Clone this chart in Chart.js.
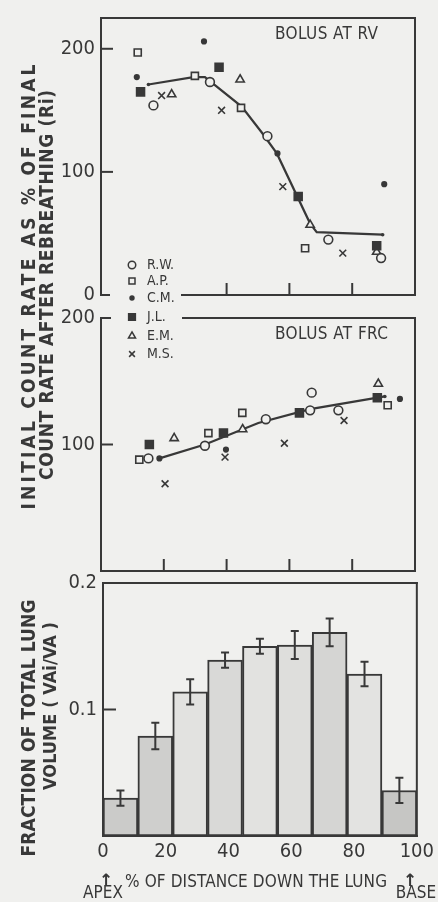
<!DOCTYPE html>
<html><head><meta charset="utf-8">
<script src="https://cdn.jsdelivr.net/npm/chart.js@4.4.0/dist/chart.umd.min.js"></script>
<style>
html,body{margin:0;padding:0;background:#f0f0ee;}
#wrap{position:relative;width:438px;height:902px;overflow:hidden;}
#wrap canvas{position:absolute;left:0;top:0;}
</style></head><body>
<div id="wrap">
<canvas id="c1" width="438" height="902"></canvas>
<canvas id="c2" width="438" height="902"></canvas>
<canvas id="c3" width="438" height="902"></canvas>
</div>
<script>
// ---------- DATA ----------
const subjects = ['R.W.', 'A.P.', 'C.M.', 'J.L.', 'E.M.', 'M.S.'];

// Bolus at RV (x = % of distance down the lung, y = Ri %)
const rvRWx = [16.7, 34.7, 53.0, 72.4, 89.2];  const rvRWy = [154, 173, 129, 45, 30];
const rvAPx = [11.7, 29.9, 44.6, 65.0];        const rvAPy = [197, 178, 152, 38];
const rvCMx = [11.4, 32.8, 56.2, 90.2];        const rvCMy = [177, 206, 115, 90];
const rvJLx = [12.6, 37.6, 62.8, 87.8];        const rvJLy = [165, 185, 80, 40];
const rvEMx = [22.5, 44.3, 66.6, 87.8];        const rvEMy = [163, 175, 57, 35];
const rvMSx = [19.3, 38.4, 57.9, 77.0];        const rvMSy = [162, 150, 88, 34];
const rvFitX = [15.1, 29.4, 33.1, 44.8, 51.2, 56.0, 66.6, 68.7, 89.7];
const rvFitY = [171, 177, 177, 153, 132, 115, 58, 51, 49];

// Bolus at FRC
const frcRWx = [15.1, 33.1, 52.5, 66.6, 67.1, 75.6]; const frcRWy = [89, 99, 120, 127, 141, 127];
const frcAPx = [12.2, 34.2, 45.0, 91.3];             const frcAPy = [88, 109, 125, 131];
const frcCMx = [18.6, 39.8, 95.2];                   const frcCMy = [89, 96, 136];
const frcJLx = [15.4, 39.0, 63.2, 88.0];             const frcJLy = [100, 109, 125, 137];
const frcEMx = [23.3, 45.1, 88.3];                   const frcEMy = [105, 112, 148];
const frcMSx = [20.4, 39.5, 58.4, 77.4];             const frcMSy = [69, 90, 101, 119];
const frcFitX = [18.6, 33.1, 50.1, 66.6, 90.4];
const frcFitY = [89, 100, 117, 128, 138];

// Fraction of total lung volume per region
const binCenters = [5.56, 16.67, 27.78, 38.89, 50.0, 61.11, 72.22, 83.33, 94.44];
const volFraction = [0.030, 0.079, 0.114, 0.139, 0.150, 0.151, 0.161, 0.128, 0.036];
const volError    = [0.006, 0.0105, 0.010, 0.006, 0.006, 0.011, 0.011, 0.0097, 0.010];

const rvTicks = [0, 100, 200];
const frcTicks = [100, 200];
const volTicks = [0.1, 0.2];
const xTickLabels = [0, 20, 40, 60, 80, 100];

// ---------- STYLE ----------
const INK = '#383838';
const BG = '#f0f0ee';
const NARROW = '"Liberation Sans Narrow", "DejaVu Sans Condensed", "Arial Narrow", sans-serif';
const markerStyles = [
  {pointStyle: 'circle',   radius: 4.4, fill: BG},
  {pointStyle: 'rect',     radius: 5.0, fill: BG},
  {pointStyle: 'circle',   radius: 2.3, fill: INK},
  {pointStyle: 'rect',     radius: 5.6, fill: INK},
  {pointStyle: 'triangle', radius: 4.8, fill: BG},
  {pointStyle: 'crossRot', radius: 4.8, fill: BG}
];
const barFills = ['#cbcbc9', '#cfcfcd', '#e2e2e0', '#d9d9d7', '#e2e2e0', '#dededc', '#d5d5d3', '#e3e3e1', '#c6c6c4'];

function pts(xs, ys) { return xs.map((x, i) => ({x: x, y: ys[i]})); }
function scatterDs(label, xs, ys, st) {
  return {type: 'scatter', label: label, data: pts(xs, ys), showLine: false,
    pointStyle: st.pointStyle, pointRadius: st.radius, pointHoverRadius: st.radius,
    pointBackgroundColor: st.fill, pointBorderColor: INK, pointBorderWidth: 1.6, order: 1};
}
function fitDs(xs, ys) {
  return {type: 'line', label: 'fit', data: pts(xs, ys), borderColor: INK, borderWidth: 2.2,
    pointRadius: c => (c.dataIndex === 0 || c.dataIndex === xs.length - 1) ? 1.8 : 0,
    pointBackgroundColor: INK, pointBorderWidth: 0, fill: false, tension: 0, order: 5};
}

const framePlugin = {
  id: 'frame',
  beforeDatasetsDraw(chart, args, o) {
    const ctx = chart.ctx, a = chart.chartArea, sc = chart.scales;
    ctx.save();
    ctx.strokeStyle = INK; ctx.lineWidth = 2; ctx.lineCap = 'square';
    const seg = (x1, y1, x2, y2) => { ctx.beginPath(); ctx.moveTo(x1, y1); ctx.lineTo(x2, y2); ctx.stroke(); };
    const top = o.top || [[0, a.right - a.left]];
    const bot = o.bottom || [[0, a.right - a.left]];
    top.forEach(s => seg(a.left + s[0], a.top, Math.min(a.right, a.left + s[1]), a.top));
    bot.forEach(s => seg(a.left + s[0], a.bottom, Math.min(a.right, a.left + s[1]), a.bottom));
    seg(a.left, a.top, a.left, a.bottom);
    seg(a.right, a.top, a.right, a.bottom);
    ctx.lineCap = 'butt';
    (o.xTicks || []).forEach(v => { const x = sc.x.getPixelForValue(v); seg(x, a.bottom, x, a.bottom - o.tickLen); });
    (o.yTicks || []).forEach(v => { const y = sc.y.getPixelForValue(v); seg(a.left, y, a.left + o.tickLen, y); });
    ctx.restore();
  }
};

function drawText(ctx, t) {
  ctx.save();
  ctx.font = t.font;
  ctx.fillStyle = INK;
  ctx.textAlign = t.align || 'center';
  ctx.textBaseline = 'middle';
  let ls = 0;
  if (t.width && 'letterSpacing' in ctx) {
    ctx.letterSpacing = '0px';
    const w = ctx.measureText(t.text).width;
    ls = (t.width - w) / (t.text.length - 1);
    ctx.letterSpacing = ls + 'px';
  }
  ctx.translate(t.x, t.y);
  if (t.rot) ctx.rotate(t.rot);
  ctx.fillText(t.text, t.align ? 0 : ls / 2, 0);
  ctx.restore();
}

const textPlugin = {
  id: 'texts',
  afterDraw(chart, args, o) {
    (o.items || []).forEach(t => drawText(chart.ctx, t));
  }
};

const legendPlugin = {
  id: 'subjLegend',
  afterDraw(chart, args, o) {
    const ctx = chart.ctx;
    subjects.forEach((s, i) => {
      const st = markerStyles[i];
      const y = o.rows[i];
      ctx.save();
      ctx.fillStyle = st.fill; ctx.strokeStyle = INK; ctx.lineWidth = 1.5;
      Chart.helpers.drawPoint(ctx, {pointStyle: st.pointStyle, radius: st.radius * 0.85, rotation: 0, borderWidth: 1.5}, o.symX, y);
      ctx.restore();
      drawText(ctx, {text: s, x: o.textX, y: y, font: '14px ' + NARROW, align: 'left'});
    });
  }
};

const tickFont = {family: NARROW, size: 20};
function yScale(min, max, ticks, w, fmt) {
  return {
    min: min, max: max,
    afterFit: s => { s.width = w; },
    afterBuildTicks: s => { s.ticks = ticks.map(v => ({value: v})); },
    grid: {display: false, drawTicks: false},
    border: {display: false},
    ticks: {color: INK, font: tickFont, padding: 6, callback: fmt || (v => String(v))}
  };
}
const common = {responsive: false, animation: false, devicePixelRatio: 1, events: []};

// ---------- CHART 1: Bolus at RV ----------
new Chart(document.getElementById('c1'), {
  type: 'scatter',
  data: {datasets: [
    scatterDs(subjects[0], rvRWx, rvRWy, markerStyles[0]),
    scatterDs(subjects[1], rvAPx, rvAPy, markerStyles[1]),
    scatterDs(subjects[2], rvCMx, rvCMy, markerStyles[2]),
    scatterDs(subjects[3], rvJLx, rvJLy, markerStyles[3]),
    scatterDs(subjects[4], rvEMx, rvEMy, markerStyles[4]),
    scatterDs(subjects[5], rvMSx, rvMSy, markerStyles[5]),
    fitDs(rvFitX, rvFitY)
  ]},
  options: Object.assign({}, common, {
    layout: {padding: {top: 10, right: 23, bottom: 607, left: 0}},
    plugins: {legend: {display: false}, tooltip: {enabled: false},
      frame: {bottom: [[0, 8], [81, 999]], xTicks: [40, 60, 80], yTicks: [100, 200], tickLen: 12}},
    scales: {
      x: {type: 'linear', min: 0, max: 100, display: false},
      y: yScale(0, 225, rvTicks, 101)
    }
  }),
  plugins: [framePlugin]
});

// ---------- CHART 2: Bolus at FRC ----------
new Chart(document.getElementById('c2'), {
  type: 'scatter',
  data: {datasets: [
    scatterDs(subjects[0], frcRWx, frcRWy, markerStyles[0]),
    scatterDs(subjects[1], frcAPx, frcAPy, markerStyles[1]),
    scatterDs(subjects[2], frcCMx, frcCMy, markerStyles[2]),
    scatterDs(subjects[3], frcJLx, frcJLy, markerStyles[3]),
    scatterDs(subjects[4], frcEMx, frcEMy, markerStyles[4]),
    scatterDs(subjects[5], frcMSx, frcMSy, markerStyles[5]),
    fitDs(frcFitX, frcFitY)
  ]},
  options: Object.assign({}, common, {
    layout: {padding: {top: 318, right: 23, bottom: 331, left: 0}},
    plugins: {legend: {display: false}, tooltip: {enabled: false},
      frame: {top: [[0, 9], [82, 999]], xTicks: [20, 40, 60, 80], yTicks: [100], tickLen: 12},
      subjLegend: {rows: [265, 281, 298, 317, 336, 354], symX: 132, textX: 147}},
    scales: {
      x: {type: 'linear', min: 0, max: 100, display: false},
      y: yScale(0, 200, frcTicks, 101)
    }
  }),
  plugins: [framePlugin, legendPlugin]
});

// ---------- CHART 3: fraction of total lung volume ----------
const errPlugin = {
  id: 'errBars',
  afterDatasetsDraw(chart) {
    const ctx = chart.ctx, xs = chart.scales.x, ys = chart.scales.y;
    ctx.save(); ctx.strokeStyle = INK; ctx.lineWidth = 2;
    binCenters.forEach((c, i) => {
      const x = xs.getPixelForValue(c);
      const y1 = ys.getPixelForValue(volFraction[i] + volError[i]);
      const y2 = ys.getPixelForValue(volFraction[i] - volError[i]);
      ctx.beginPath();
      ctx.moveTo(x, y1); ctx.lineTo(x, y2);
      ctx.moveTo(x - 4, y1); ctx.lineTo(x + 4, y1);
      ctx.moveTo(x - 4, y2); ctx.lineTo(x + 4, y2);
      ctx.stroke();
    });
    ctx.restore();
  }
};

new Chart(document.getElementById('c3'), {
  type: 'bar',
  data: {datasets: [{
    label: 'Vai/Va', data: pts(binCenters, volFraction),
    backgroundColor: barFills, borderColor: INK, borderWidth: 2, borderSkipped: false,
    barPercentage: 1, categoryPercentage: 1
  }]},
  options: Object.assign({}, common, {
    layout: {padding: {top: 583, right: 21, bottom: 0, left: 0}},
    plugins: {legend: {display: false}, tooltip: {enabled: false},
      frame: {xTicks: [20, 40, 60, 80], yTicks: [0.1], tickLen: 13},
      texts: {items: [
        {text: 'BOLUS AT RV', x: 326.5, y: 35, font: '17px ' + NARROW, width: 103},
        {text: 'BOLUS AT FRC', x: 331.5, y: 335, font: '17px ' + NARROW, width: 113},
        {text: 'INITIAL COUNT RATE AS % OF FINAL', x: 30, y: 287, rot: -Math.PI / 2, font: 'bold 19px ' + NARROW, width: 445},
        {text: 'COUNT RATE AFTER REBREATHING (Ri)', x: 48.5, y: 285, rot: -Math.PI / 2, font: 'bold 19px ' + NARROW, width: 390},
        {text: 'FRACTION OF TOTAL LUNG', x: 30, y: 728, rot: -Math.PI / 2, font: 'bold 19px ' + NARROW, width: 257},
        {text: 'VOLUME ( VAi/VA )', x: 51, y: 706, rot: -Math.PI / 2, font: 'bold 18px ' + NARROW, width: 168},
        {text: '% OF DISTANCE DOWN THE LUNG', x: 256, y: 883, font: '17px ' + NARROW, width: 262},
        {text: '↑', x: 106, y: 882, font: 'bold 17px "DejaVu Sans", sans-serif'},
        {text: '↑', x: 410, y: 882, font: 'bold 17px "DejaVu Sans", sans-serif'},
        {text: 'APEX', x: 103, y: 894, font: '17px ' + NARROW},
        {text: 'BASE', x: 416, y: 894, font: '17px ' + NARROW}
      ]}},
    scales: {
      x: {type: 'linear', min: 0, max: 100, offset: false,
        afterFit: s => { s.height = 66; },
        afterBuildTicks: s => { s.ticks = xTickLabels.map(v => ({value: v})); },
        grid: {display: false, drawTicks: false}, border: {display: false},
        ticks: {color: INK, font: tickFont, padding: 4, maxRotation: 0, autoSkip: false}},
      y: yScale(0, 0.2, volTicks, 103, v => v.toFixed(1))
    }
  }),
  plugins: [framePlugin, errPlugin, textPlugin]
});
</script>
</body></html>
